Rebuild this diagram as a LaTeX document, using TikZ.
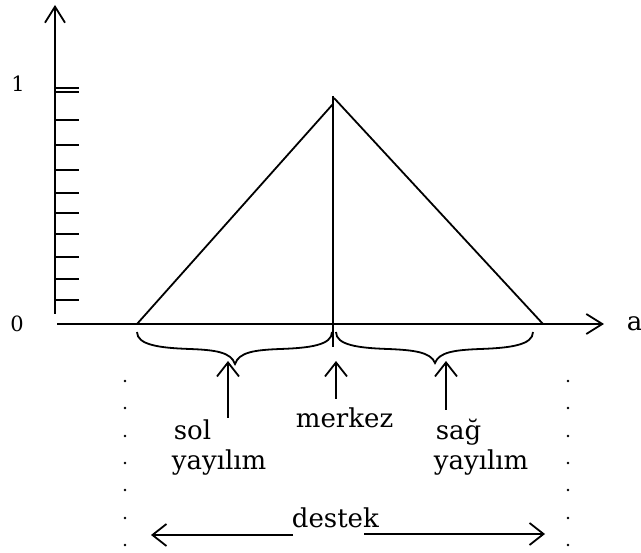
\documentclass[tikz,border=0pt]{standalone}
\usepackage{fontspec}
\setmainfont{DejaVu Serif}
\usetikzlibrary{arrows.meta}
\begin{document}
\begin{tikzpicture}[x=1pt,y=-1pt,line width=1.8pt,
  bigtip/.style={-{Straight Barb[length=14pt,width=22pt]}},
  axtip/.style={-{Straight Barb[length=16pt,width=20pt]}},
  lbl/.style={font=\fontsize{26}{30}\selectfont,inner sep=0pt,anchor=base west},
  num/.style={font=\fontsize{21}{24}\selectfont,inner sep=0pt},
  dotmark/.style={fill=black}]
\useasboundingbox (0,0) rectangle (641,553);
% axes
\coordinate (yb) at (55,314);
\coordinate (yt) at (55,5);
\coordinate (xl) at (57,324);
\coordinate (xr) at (604,324);
\draw[axtip] (yb) -- (yt);
\draw[axtip] (xl) -- (xr);
\node[num] (one) at (18,84) {1};
\node[num] (zero) at (17,324) {0};
\node[lbl,anchor=base west] (a) at (626,331) {a};
% ticks
\foreach \t in {88,92,120,145,170,193,213,234,257,279,300}{
  \coordinate (ta) at (55,\t);
  \coordinate (tb) at (79,\t);
  \draw (ta) -- (tb);
}
% triangle
\coordinate (L) at (137,324);
\coordinate (R) at (543,324);
\coordinate (Aa) at (333,104);
\coordinate (Ab) at (334,98);
\coordinate (Vt) at (333,96);
\coordinate (Vb) at (333,347);
\draw (L) -- (Aa);
\draw (Ab) -- (R);
\draw (Vt) -- (Vb);
% braces
\draw (137,332) .. controls (137,345) and (160,348) .. (190,349)
  .. controls (215,350) and (231,352) .. (235,364)
  .. controls (239,352) and (255,350) .. (280,349)
  .. controls (310,348) and (332,345) .. (332,332);
\draw (336,332) .. controls (336,345) and (358,348) .. (388,349)
  .. controls (413,350) and (431,352) .. (435,363)
  .. controls (439,352) and (455,350) .. (480,349)
  .. controls (510,348) and (533,345) .. (533,332);
% pointer arrows
\coordinate (p1b) at (228,418); \coordinate (p1t) at (228,361);
\coordinate (p2b) at (336,399); \coordinate (p2t) at (336,361);
\coordinate (p3b) at (446,410); \coordinate (p3t) at (446,361);
\draw[bigtip] (p1b) -- (p1t);
\draw[bigtip] (p2b) -- (p2t);
\draw[bigtip] (p3b) -- (p3t);
% labels
\node[lbl] (sol) at (173,440) {sol};
\node[lbl] (soly) at (171,470) {yayılım};
\node[lbl] (mer) at (295,428) {merkez};
\node[lbl] (sag) at (435,440) {sağ};
\node[lbl] (sagy) at (433,470) {yayılım};
\node[lbl] (des) at (291,528) {destek};
% destek arrows
\coordinate (d1a) at (293,535); \coordinate (d1b) at (151,535);
\coordinate (d2a) at (364,534); \coordinate (d2b) at (545,534);
\draw[bigtip] (d1a) -- (d1b);
\draw[bigtip] (d2a) -- (d2b);
% dotted columns
\foreach \y in {381,408,436,463,490,518,545}{
  \fill[dotmark] (125,\y) circle (1.4);
  \fill[dotmark] (568,\y) circle (1.4);
}
\end{tikzpicture}
\end{document}
